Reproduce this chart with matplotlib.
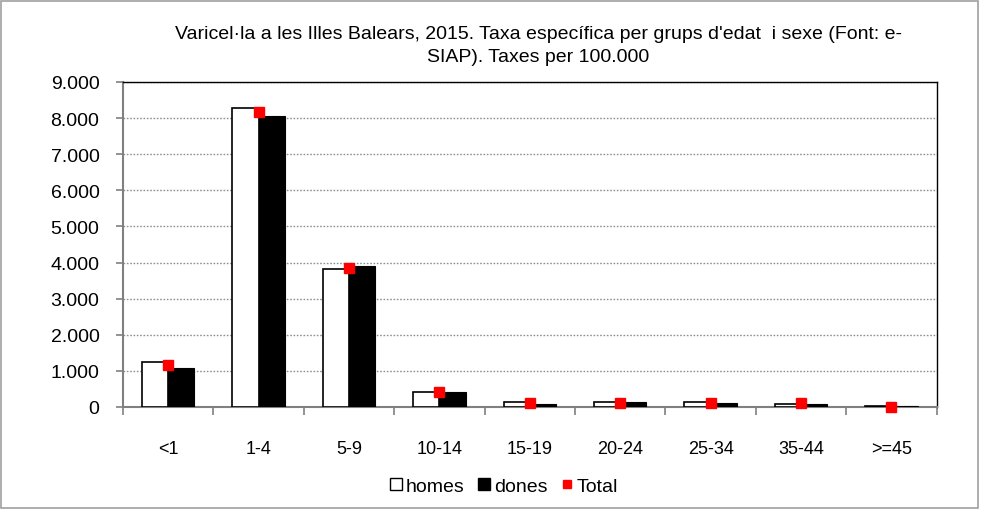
import matplotlib.pyplot as plt
from matplotlib.ticker import FuncFormatter, FixedLocator
from matplotlib.lines import Line2D
from matplotlib.patches import Rectangle
import numpy as np

plt.rcParams['font.family'] = ['Liberation Sans', 'DejaVu Sans']

# age groups and rates per 100.000
groups = ['<1', '1-4', '5-9', '10-14', '15-19', '20-24', '25-34', '35-44', '>=45']
homes = [1250, 8280, 3820, 410, 130, 130, 130, 90, 40]
dones = [1080, 8060, 3900, 420, 90, 140, 100, 95, 40]
total = [1160, 8170, 3860, 415, 110, 120, 115, 100, 10]
yticks = [0, 1000, 2000, 3000, 4000, 5000, 6000, 7000, 8000, 9000]

title = "Varicel·la a les Illes Balears, 2015. Taxa específica per grups d'edat  i sexe (Font: e-\nSIAP). Taxes per 100.000"

fig = plt.figure(figsize=(9.81, 5.10), dpi=100)
ax = fig.add_axes([0.1254, 0.2, 0.8294, 0.6373])

x = np.arange(len(groups))
w = 0.29
ax.bar(x - w/2, homes, w, color='white', edgecolor='black', linewidth=1.2, zorder=3)
ax.bar(x + w/2, dones, w, color='black', edgecolor='black', linewidth=0.8, zorder=3)
ax.plot(x, total, 's', color='#ff0000', markersize=6.5, zorder=4, clip_on=False)

ax.set_xlim(-0.5, len(groups) - 0.5)
ax.set_ylim(0, 9000)
ax.set_yticks(yticks)
ax.yaxis.set_major_formatter(FuncFormatter(lambda v, p: f'{int(v):,}'.replace(',', '.')))
ax.grid(axis='y', color='#909090', linestyle=(0, (1.2, 1.2)), linewidth=1.0, zorder=0)

# category labels between the boundary ticks
ax.set_xticks(x)
ax.set_xticklabels(groups)
ax.tick_params(axis='x', which='major', length=0, pad=24, labelsize=13)
ax.xaxis.set_minor_locator(FixedLocator(np.arange(-0.5, len(groups), 1.0)))
ax.tick_params(axis='x', which='minor', length=6, color='#808080', width=1.2)
ax.tick_params(axis='y', length=5, color='#808080', width=1.2, labelsize=14, pad=12)

for s in ['left', 'bottom']:
    ax.spines[s].set_color('#808080')
    ax.spines[s].set_linewidth(1.5)
for s in ['top', 'right']:
    ax.spines[s].set_color('black')
    ax.spines[s].set_linewidth(1.0)

fig.text(0.549, 0.91, title, ha='center', va='center', fontsize=14, linespacing=1.5)

handles = [
    Line2D([], [], marker='s', linestyle='none', markerfacecolor='white', markeredgecolor='black', markersize=8),
    Line2D([], [], marker='s', linestyle='none', markerfacecolor='black', markeredgecolor='black', markersize=8),
    Line2D([], [], marker='s', linestyle='none', markerfacecolor='#ff0000', markeredgecolor='#ff0000', markersize=6),
]
fig.legend(handles, ['homes', 'dones', 'Total'], loc='center', bbox_to_anchor=(0.512, 0.045), ncol=3,
           frameon=False, fontsize=14, handletextpad=0.0, columnspacing=0.5, handlelength=1.0)

fig.patches.append(Rectangle((0.001, 0.002), 0.996, 0.994, transform=fig.transFigure,
                             fill=False, edgecolor='#a0a0a0', linewidth=1.2))

fig.savefig('out.png', dpi=100)
